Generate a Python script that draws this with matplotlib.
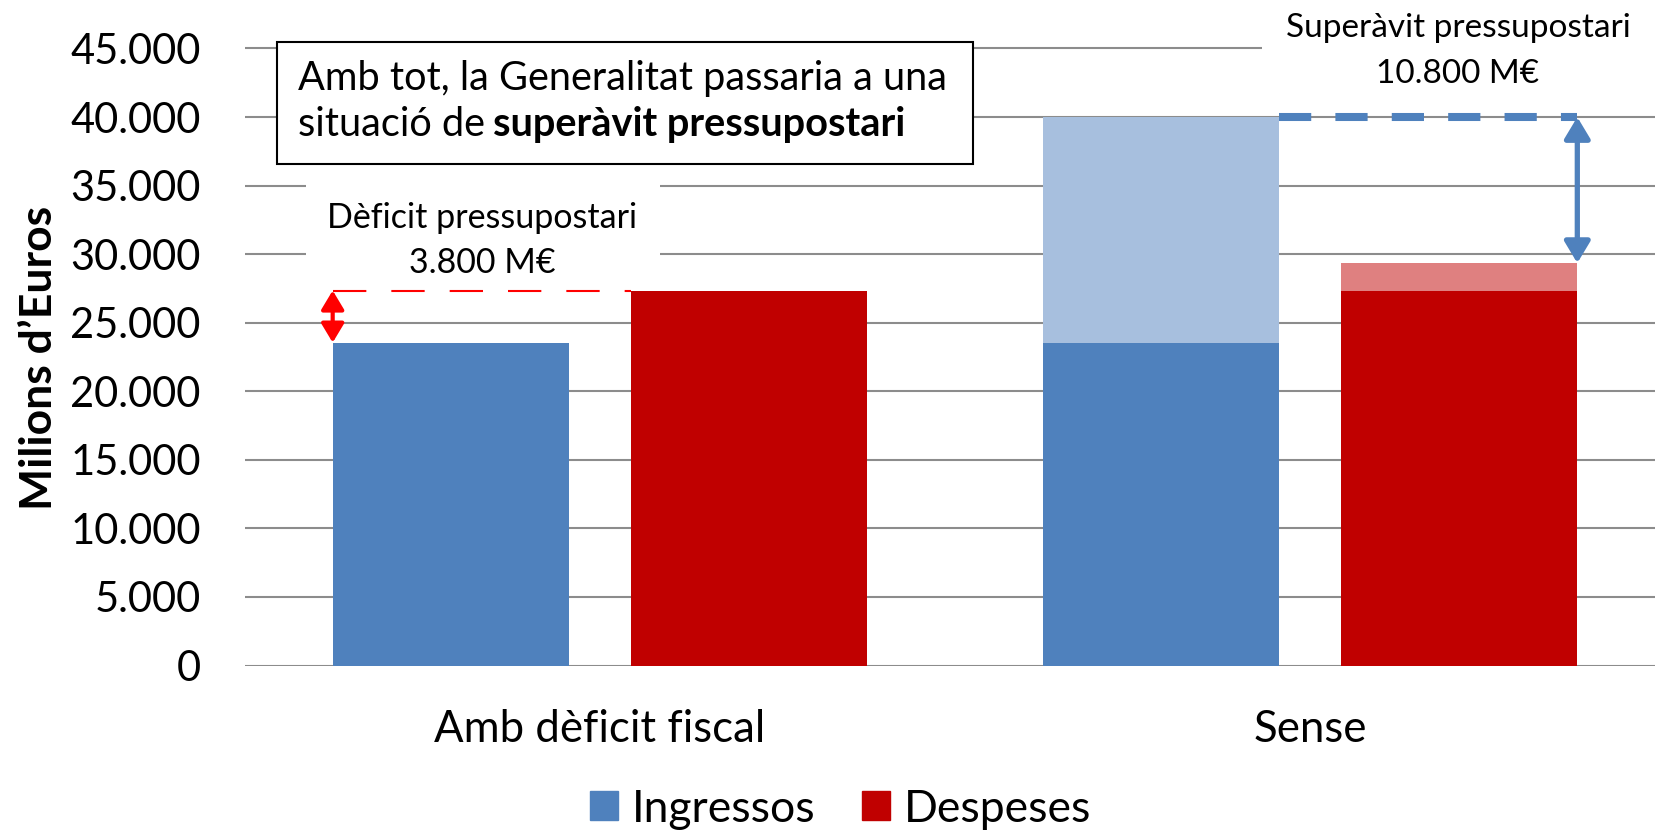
import matplotlib
matplotlib.use('Agg')
import matplotlib.pyplot as plt
from matplotlib.patches import Patch, Rectangle

plt.rcParams['font.family'] = ['Lato', 'DejaVu Sans']

# dades (milions d'euros)
categories = ['Amb dèficit fiscal', 'Sense']
ingressos = [23550, 23550]
ingressos_extra = [0, 16450]
despeses = [27350, 27350]
despeses_extra = [0, 2000]
yticks = [0, 5000, 10000, 15000, 20000, 25000, 30000, 35000, 40000, 45000]
ytick_labels = ['0', '5.000', '10.000', '15.000', '20.000', '25.000',
                '30.000', '35.000', '40.000', '45.000']
series_names = ['Ingressos', 'Despeses']
deficit_text = ['Dèficit pressupostari', '3.800 M€']
superavit_text = ['Superàvit pressupostari', '10.800 M€']
box_line1 = 'Amb tot, la Generalitat passaria a una'
box_line2 = 'situació de'
box_line2_bold = 'superàvit pressupostari'
ylabel = 'Milions d’Euros'

blue = '#4F81BD'
lblue = '#A7BFDE'
red = '#C00000'
lred = '#DF8080'
grey = '#8C8C8C'

W, H = 1655, 830


def fx(px):
    return px / W


def fy(py):
    return 1 - py / H


fig = plt.figure(figsize=(W / 100, H / 100), dpi=100)
ppu = 617 / 45000  # pixels per milio
ax = fig.add_axes([fx(245), fy(665.5), 1420 / W, 45200 * ppu / H])

xc = [0.5, 1.5]
off = 0.21
bw = 0.333
xi = [c - off for c in xc]
xd = [c + off for c in xc]

ax.bar(xi, ingressos, bw, color=blue, zorder=2)
ax.bar(xi, ingressos_extra, bw, bottom=ingressos, color=lblue, zorder=2)
ax.bar(xd, despeses, bw, color=red, zorder=2)
ax.bar(xd, despeses_extra, bw, bottom=despeses, color=lred, zorder=2)

ing_tot = [a + b for a, b in zip(ingressos, ingressos_extra)]
desp_tot = [a + b for a, b in zip(despeses, despeses_extra)]

ax.set_xlim(0, 2)
ax.set_ylim(0, 45200)
ax.set_yticks(yticks, ytick_labels)
ax.set_xticks(xc, categories)
ax.yaxis.grid(True, color=grey, lw=1.5, zorder=0)
ax.set_axisbelow(True)
for s in ax.spines.values():
    s.set_visible(False)
ax.tick_params(axis='y', length=0, pad=32, labelsize=30)
ax.tick_params(axis='x', length=0, pad=31, labelsize=31.5)

# deficit (esquerra)
xl = xi[0] - bw / 2
ax.plot([xl, xd[0] - bw / 2], [despeses[0], despeses[0]], color='red', lw=1.5,
        linestyle=(0, (16, 12)), zorder=4)
ax.annotate('', xy=(xl, despeses[0]), xytext=(xl, ingressos[0]),
            arrowprops=dict(arrowstyle='<|-|>,head_length=0.5,head_width=0.3',
                            color='red', lw=3, mutation_scale=23,
                            shrinkA=0, shrinkB=0), zorder=5)

# superavit (dreta)
xr = xd[1] + bw / 2
ax.plot([xi[1] + bw / 2, xr], [ing_tot[1], ing_tot[1]], color=blue, lw=5.8,
        linestyle=(0, (4, 3)), solid_capstyle='butt', zorder=4)
ax.annotate('', xy=(xr, ing_tot[1]), xytext=(xr, desp_tot[1]),
            arrowprops=dict(arrowstyle='<|-|>,head_length=0.5,head_width=0.3',
                            color=blue, lw=3.8, mutation_scale=26,
                            shrinkA=0, shrinkB=0), zorder=5)

# fons blancs de les etiquetes
fig.add_artist(Rectangle((fx(306), fy(285)), (660 - 306) / W, (285 - 176) / H,
                         transform=fig.transFigure, facecolor='white',
                         edgecolor='none', zorder=1))
fig.add_artist(Rectangle((fx(1262), fy(98)), (W - 1262) / W, 98 / H,
                         transform=fig.transFigure, facecolor='white',
                         edgecolor='none', zorder=1))

fig.text(fx(482), fy(228), deficit_text[0], ha='center', va='baseline', fontsize=24.5)
fig.text(fx(482), fy(272.7), deficit_text[1], ha='center', va='baseline', fontsize=24.5)
fig.text(fx(1458), fy(37.3), superavit_text[0], ha='center', va='baseline', fontsize=24)
fig.text(fx(1458), fy(83.3), superavit_text[1], ha='center', va='baseline', fontsize=24)

# quadre de text
fig.add_artist(Rectangle((fx(277), fy(164)), (973 - 277) / W, (164 - 42) / H,
                         transform=fig.transFigure, facecolor='white',
                         edgecolor='black', lw=1.5, zorder=2))
fig.text(fx(298), fy(89.7), box_line1, ha='left', va='baseline', fontsize=28.6)
t2 = fig.text(fx(298), fy(136.3), box_line2, ha='left', va='baseline', fontsize=28.6)
r = fig.canvas.get_renderer()
bb = t2.get_window_extent(r)
fig.text((bb.x1 + 8) / W, fy(136.3), box_line2_bold, ha='left', va='baseline',
         fontsize=28.6, fontweight='bold')

fig.text(fx(39), fy(358), ylabel, rotation=90, ha='center', va='center',
         fontsize=32, fontweight='bold')

handles = [Patch(color=blue), Patch(color=red)]
fig.legend(handles, series_names, loc='center', bbox_to_anchor=(fx(841), fy(809)),
           ncol=2, frameon=False, fontsize=32, handlelength=0.62,
           handleheight=0.62, handletextpad=0.32, columnspacing=1.05,
           borderpad=0, borderaxespad=0)

plt.savefig('out.png', dpi=100)
